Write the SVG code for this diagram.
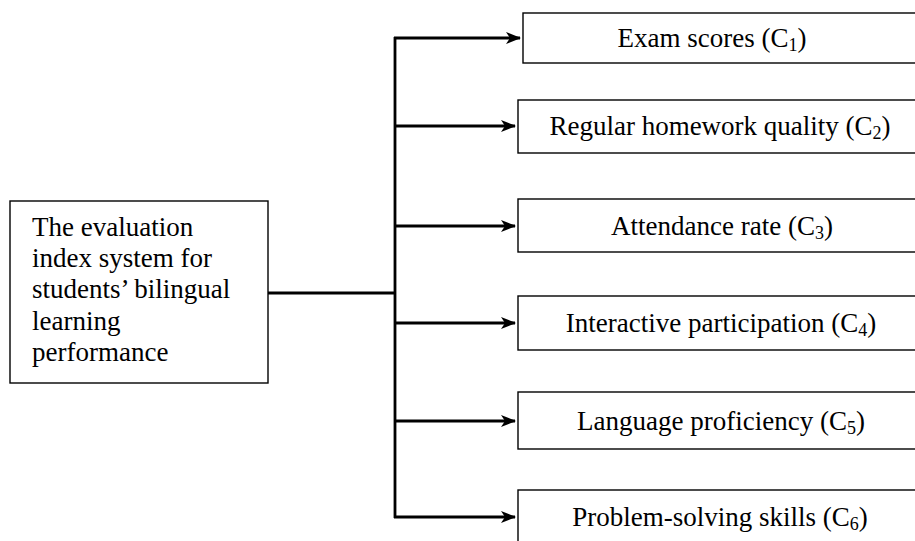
<svg xmlns="http://www.w3.org/2000/svg" width="915" height="541" viewBox="0 0 915 541">
<style>
.box{fill:#fff;stroke:#000;stroke-width:1.4}
.t{font-family:"Liberation Serif","Times New Roman",serif;font-size:27px;fill:#000}
.c{text-anchor:middle}
.sub{font-size:18px}
.ln{fill:none;stroke:#000;stroke-width:2.8}
</style>
<defs>
<marker id="ah" markerWidth="15" markerHeight="12" refX="14" refY="6" orient="auto" markerUnits="userSpaceOnUse">
<path d="M0,0 L15,6 L0,12 L4,6 z" fill="#000"/>
</marker>
</defs>
<g id="root">
<rect class="box" x="10" y="201" width="258" height="182"/>
<text class="t" x="32" y="236">The evaluation</text>
<text class="t" x="32" y="267">index system for</text>
<text class="t" x="32" y="298">students’ bilingual</text>
<text class="t" x="32" y="330">learning</text>
<text class="t" x="32" y="361">performance</text>
</g>
<g id="c1">
<rect class="box" x="523" y="13" width="420" height="50"/>
<text class="t c" x="712" y="47">Exam scores (C<tspan class="sub" dy="4">1</tspan><tspan dy="-4">)</tspan></text>
</g>
<g id="c2">
<rect class="box" x="518" y="100" width="420" height="53"/>
<text class="t c" x="720" y="135">Regular homework quality (C<tspan class="sub" dy="4">2</tspan><tspan dy="-4">)</tspan></text>
</g>
<g id="c3">
<rect class="box" x="518" y="199" width="420" height="53"/>
<text class="t c" x="722" y="235">Attendance rate (C<tspan class="sub" dy="4">3</tspan><tspan dy="-4">)</tspan></text>
</g>
<g id="c4">
<rect class="box" x="518" y="296" width="420" height="54"/>
<text class="t c" x="721" y="332">Interactive participation (C<tspan class="sub" dy="4">4</tspan><tspan dy="-4">)</tspan></text>
</g>
<g id="c5">
<rect class="box" x="518" y="392" width="420" height="57"/>
<text class="t c" x="721" y="430">Language proficiency (C<tspan class="sub" dy="4">5</tspan><tspan dy="-4">)</tspan></text>
</g>
<g id="c6">
<rect class="box" x="518" y="490" width="420" height="60"/>
<text class="t c" x="720" y="526">Problem-solving skills (C<tspan class="sub" dy="4">6</tspan><tspan dy="-4">)</tspan></text>
</g>
<g id="connectors">
<line class="ln" x1="268" y1="293" x2="396" y2="293"/>
<line class="ln" x1="395" y1="37" x2="395" y2="518"/>
<line class="ln" x1="394" y1="38" x2="520" y2="38" marker-end="url(#ah)"/>
<line class="ln" x1="394" y1="126" x2="515" y2="126" marker-end="url(#ah)"/>
<line class="ln" x1="394" y1="226" x2="515" y2="226" marker-end="url(#ah)"/>
<line class="ln" x1="394" y1="323" x2="515" y2="323" marker-end="url(#ah)"/>
<line class="ln" x1="394" y1="421" x2="515" y2="421" marker-end="url(#ah)"/>
<line class="ln" x1="394" y1="517" x2="515" y2="517" marker-end="url(#ah)"/>
</g>
</svg>
